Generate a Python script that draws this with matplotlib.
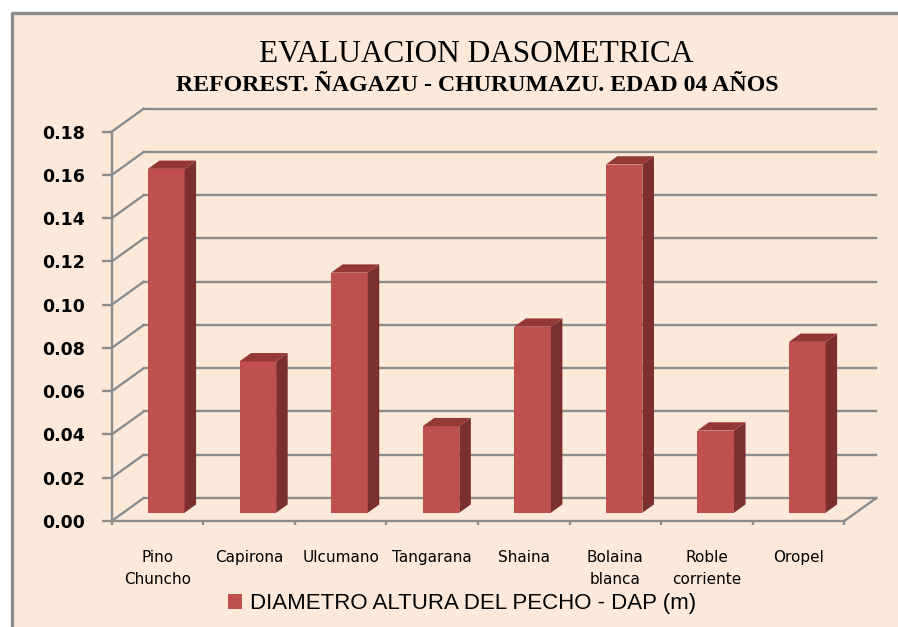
import matplotlib
matplotlib.use("Agg")
import matplotlib.pyplot as plt
from matplotlib.patches import Polygon, Rectangle
from matplotlib.lines import Line2D

# data
categories = ["Pino\nChuncho", "Capirona", "Ulcumano", "Tangarana", "Shaina",
              "Bolaina\nblanca", "Roble\ncorriente", "Oropel"]
dap = [0.159, 0.070, 0.111, 0.040, 0.086, 0.161, 0.038, 0.079]
y_ticks = [0.00, 0.02, 0.04, 0.06, 0.08, 0.10, 0.12, 0.14, 0.16, 0.18]
series_label = "DIAMETRO ALTURA DEL PECHO - DAP (m)"

W, H = 898, 627
BG = "#FDE9D9"
GRID = "#8C8C8C"
FRONT = "#C0504D"
SIDE = "#7B2F2E"
TOP = "#943836"

fig = plt.figure(figsize=(W / 100, H / 100), dpi=100)
fig.patch.set_facecolor("white")

# chart area with grey border on left/top
fig.patches.append(Rectangle((11 / W, 0), 1, 1 - 12 / H, transform=fig.transFigure,
                             facecolor=BG, edgecolor="none", zorder=-2))
fig.lines.append(Line2D([11.5 / W, 11.5 / W, 1], [0, 1 - 12.5 / H, 1 - 12.5 / H],
                        transform=fig.transFigure, color=GRID, lw=2.4, zorder=-1))

# front plane of the 3d box
x0, x1 = 111.7, 844.3
y0, y1 = 521.0, 131.7
ax = fig.add_axes([x0 / W, 1 - y0 / H, (x1 - x0) / W, (y0 - y1) / H])
ax.set_zorder(2)
ax.patch.set_visible(False)
n = len(categories)
ax.set_xlim(0, n)
ax.set_ylim(0, 0.18)

# depth offset of the back wall, in data units
DX = 32 / ((x1 - x0) / n)
DY = 23 / ((y0 - y1) / 0.18)

for v in y_ticks:
    ax.plot([DX, n + DX], [v + DY, v + DY], color=GRID, lw=1.7, clip_on=False, zorder=1)
    ax.plot([0, DX], [v, v + DY], color=GRID, lw=1.7, clip_on=False, zorder=1)
ax.plot([n, n + DX], [0, DY], color=GRID, lw=1.7, clip_on=False, zorder=1)

# bars: front face through ax.bar, side and top faces as polygons
f = 0.36      # depth position of bar front
b = 0.36      # bar depth
w = 0.40
xs = [i + 0.47 + f * DX for i in range(n)]
ax.bar(xs, dap, width=w, bottom=f * DY, color=FRONT, zorder=3, label=series_label)
for x, v in zip(xs, dap):
    xl, xr = x - w / 2, x + w / 2
    base = f * DY
    side = [(xr, base), (xr + b * DX, base + b * DY), (xr + b * DX, base + b * DY + v), (xr, base + v)]
    top = [(xl, base + v), (xr, base + v), (xr + b * DX, base + v + b * DY), (xl + b * DX, base + v + b * DY)]
    ax.add_patch(Polygon(side, closed=True, facecolor=SIDE, edgecolor="none", zorder=3, clip_on=False))
    ax.add_patch(Polygon(top, closed=True, facecolor=TOP, edgecolor="none", zorder=3, clip_on=False))

for s in ["top", "right"]:
    ax.spines[s].set_visible(False)
for s in ["left", "bottom"]:
    ax.spines[s].set_color(GRID)
    ax.spines[s].set_linewidth(1.7)

ax.set_yticks(y_ticks)
ax.set_yticklabels([f"{v:.2f}" for v in y_ticks])
ax.tick_params(axis="y", direction="out", length=7, width=1.7, color=GRID, pad=12,
               labelsize=12.5, labelcolor="black")
for t in ax.get_yticklabels():
    t.set_fontweight("bold")

ax.set_xticks(range(n + 1))
ax.set_xticklabels([])
ax.set_xticks([i + 0.5 for i in range(n)], minor=True)
ax.set_xticklabels(categories, minor=True, linespacing=1.55)
ax.tick_params(axis="x", which="major", direction="out", length=3, width=1.7, color=GRID)
ax.tick_params(axis="x", which="minor", length=0, pad=21, labelsize=11, labelcolor="black")

fig.text(476 / W, 1 - 62 / H, "EVALUACION DASOMETRICA", ha="center", va="baseline",
         fontsize=22.5, family="Liberation Serif")
fig.text(477 / W, 1 - 91 / H, "REFOREST. ÑAGAZU - CHURUMAZU. EDAD 04 AÑOS", ha="center",
         va="baseline", fontsize=17.2, fontweight="bold", family="Liberation Serif")

fig.legend(loc="center", bbox_to_anchor=(462 / W, 1 - 604 / H), frameon=False,
           handlelength=0.65, handleheight=0.65, handletextpad=0.35,
           prop={"family": "Liberation Sans", "size": 16})

fig.savefig("out.png", dpi=100, facecolor=fig.get_facecolor())
